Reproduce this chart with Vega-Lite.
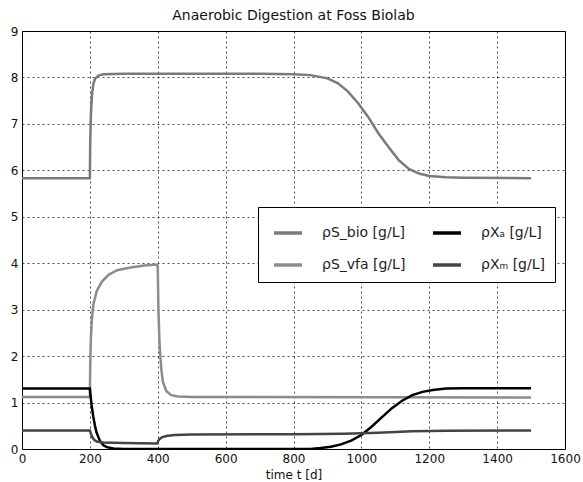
{
  "$schema": "https://vega.github.io/schema/vega-lite/v6.json",
  "autosize": {"type": "none"},
  "padding": {"left": 22, "top": 31, "right": 18, "bottom": 33},
  "width": 543,
  "height": 418,
  "background": "white",
  "title": {"text": "Anaerobic Digestion at Foss Biolab", "font": "DejaVu Sans", "fontSize": 14, "fontWeight": "normal", "color": "#111", "offset": 2},
  "config": {
    "view": {"stroke": "black", "strokeWidth": 1},
    "axis": {"labelFont": "DejaVu Sans", "titleFont": "DejaVu Sans", "labelFontSize": 12, "titleFontSize": 12, "titleFontWeight": "normal", "labelColor": "#111", "titleColor": "#111", "grid": true, "gridColor": "#000", "gridOpacity": 0.7, "gridDash": [2, 3], "gridWidth": 1, "domain": false, "ticks": false, "labelPadding": 4, "format": "d"}
  },
  "data": {"values": [
    {"t":0,"v":5.83,"s":"bio"},{"t":200,"v":5.83,"s":"bio"},{"t":201,"v":6.6,"s":"bio"},{"t":203,"v":7.2,"s":"bio"},{"t":206,"v":7.6,"s":"bio"},{"t":210,"v":7.85,"s":"bio"},{"t":215,"v":7.97,"s":"bio"},{"t":225,"v":8.04,"s":"bio"},{"t":240,"v":8.07,"s":"bio"},{"t":300,"v":8.08,"s":"bio"},{"t":700,"v":8.08,"s":"bio"},{"t":800,"v":8.07,"s":"bio"},{"t":850,"v":8.05,"s":"bio"},{"t":900,"v":7.98,"s":"bio"},{"t":930,"v":7.88,"s":"bio"},{"t":960,"v":7.7,"s":"bio"},{"t":990,"v":7.45,"s":"bio"},{"t":1020,"v":7.15,"s":"bio"},{"t":1050,"v":6.8,"s":"bio"},{"t":1080,"v":6.5,"s":"bio"},{"t":1110,"v":6.22,"s":"bio"},{"t":1140,"v":6.03,"s":"bio"},{"t":1170,"v":5.93,"s":"bio"},{"t":1200,"v":5.88,"s":"bio"},{"t":1250,"v":5.85,"s":"bio"},{"t":1300,"v":5.84,"s":"bio"},{"t":1500,"v":5.83,"s":"bio"},
    {"t":0,"v":1.12,"s":"vfa"},{"t":200,"v":1.12,"s":"vfa"},{"t":201,"v":1.8,"s":"vfa"},{"t":203,"v":2.4,"s":"vfa"},{"t":206,"v":2.8,"s":"vfa"},{"t":210,"v":3.1,"s":"vfa"},{"t":220,"v":3.4,"s":"vfa"},{"t":235,"v":3.6,"s":"vfa"},{"t":255,"v":3.75,"s":"vfa"},{"t":280,"v":3.85,"s":"vfa"},{"t":320,"v":3.91,"s":"vfa"},{"t":360,"v":3.95,"s":"vfa"},{"t":399,"v":3.97,"s":"vfa"},{"t":400,"v":3.9,"s":"vfa"},{"t":402,"v":3.0,"s":"vfa"},{"t":405,"v":2.3,"s":"vfa"},{"t":410,"v":1.75,"s":"vfa"},{"t":415,"v":1.45,"s":"vfa"},{"t":425,"v":1.25,"s":"vfa"},{"t":440,"v":1.16,"s":"vfa"},{"t":460,"v":1.13,"s":"vfa"},{"t":500,"v":1.12,"s":"vfa"},{"t":1500,"v":1.11,"s":"vfa"},
    {"t":0,"v":1.3,"s":"xa"},{"t":200,"v":1.3,"s":"xa"},{"t":202,"v":1.15,"s":"xa"},{"t":205,"v":0.95,"s":"xa"},{"t":210,"v":0.7,"s":"xa"},{"t":215,"v":0.5,"s":"xa"},{"t":220,"v":0.35,"s":"xa"},{"t":230,"v":0.17,"s":"xa"},{"t":240,"v":0.08,"s":"xa"},{"t":250,"v":0.04,"s":"xa"},{"t":270,"v":0.01,"s":"xa"},{"t":300,"v":0.0,"s":"xa"},{"t":850,"v":0.0,"s":"xa"},{"t":880,"v":0.02,"s":"xa"},{"t":910,"v":0.05,"s":"xa"},{"t":940,"v":0.1,"s":"xa"},{"t":970,"v":0.18,"s":"xa"},{"t":1000,"v":0.3,"s":"xa"},{"t":1030,"v":0.48,"s":"xa"},{"t":1060,"v":0.68,"s":"xa"},{"t":1090,"v":0.88,"s":"xa"},{"t":1120,"v":1.04,"s":"xa"},{"t":1150,"v":1.16,"s":"xa"},{"t":1180,"v":1.23,"s":"xa"},{"t":1210,"v":1.27,"s":"xa"},{"t":1250,"v":1.3,"s":"xa"},{"t":1300,"v":1.31,"s":"xa"},{"t":1500,"v":1.31,"s":"xa"},
    {"t":0,"v":0.4,"s":"xm"},{"t":200,"v":0.4,"s":"xm"},{"t":203,"v":0.33,"s":"xm"},{"t":207,"v":0.26,"s":"xm"},{"t":212,"v":0.2,"s":"xm"},{"t":220,"v":0.16,"s":"xm"},{"t":240,"v":0.14,"s":"xm"},{"t":300,"v":0.13,"s":"xm"},{"t":399,"v":0.12,"s":"xm"},{"t":401,"v":0.17,"s":"xm"},{"t":405,"v":0.21,"s":"xm"},{"t":412,"v":0.25,"s":"xm"},{"t":425,"v":0.28,"s":"xm"},{"t":450,"v":0.3,"s":"xm"},{"t":500,"v":0.31,"s":"xm"},{"t":800,"v":0.32,"s":"xm"},{"t":950,"v":0.33,"s":"xm"},{"t":1050,"v":0.35,"s":"xm"},{"t":1150,"v":0.38,"s":"xm"},{"t":1250,"v":0.395,"s":"xm"},{"t":1500,"v":0.4,"s":"xm"}
  ]},
  "mark": {"type": "line", "strokeWidth": 2.5, "clip": true},
  "encoding": {
    "x": {"field": "t", "type": "quantitative", "scale": {"domain": [0, 1600], "nice": false}, "axis": {"values": [0,200,400,600,800,1000,1200,1400,1600], "title": "time t [d]", "titlePadding": 5, "labelFlush": false}},
    "y": {"field": "v", "type": "quantitative", "scale": {"domain": [0, 9], "nice": false}, "axis": {"values": [0,1,2,3,4,5,6,7,8,9], "title": null, "labelFlush": false}},
    "color": {"field": "s", "type": "nominal",
      "scale": {"domain": ["bio", "xa", "vfa", "xm"], "range": ["#7a7a7a", "#000000", "#8c8c8c", "#444444"]},
      "legend": {"title": null, "orient": "none", "legendX": 236, "legendY": 176, "columns": 2, "direction": "horizontal",
        "labelExpr": "{'bio':'ρS_bio [g/L]','vfa':'ρS_vfa [g/L]','xa':'ρXₐ [g/L]','xm':'ρXₘ [g/L]'}[datum.value]",
        "symbolType": "stroke", "symbolSize": 784, "symbolStrokeWidth": 3.5, "labelFont": "DejaVu Sans", "labelFontSize": 14, "labelColor": "#222", "labelOffset": 18, "columnPadding": 20, "rowPadding": 9, "padding": 10, "strokeColor": "black", "fillColor": "white", "labelLimit": 200, "symbolOffset": 4}
    }
  }
}
